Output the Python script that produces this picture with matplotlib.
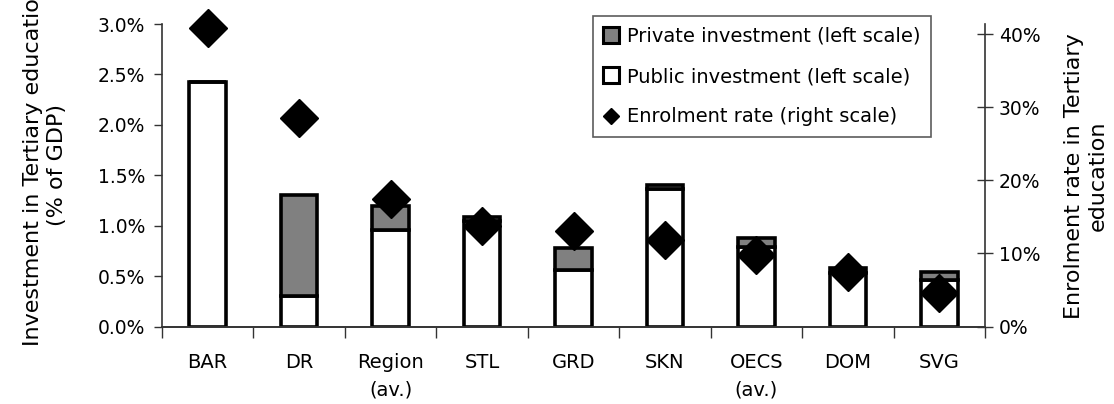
import matplotlib
matplotlib.use("Agg")
import matplotlib.pyplot as plt
from matplotlib.lines import Line2D
from matplotlib.ticker import FuncFormatter, FixedLocator
import numpy as np

categories = ["BAR", "DR", "Region\n(av.)", "STL", "GRD", "SKN", "OECS\n(av.)", "DOM", "SVG"]
public_inv = [2.42, 0.30, 0.96, 1.05, 0.56, 1.36, 0.79, 0.53, 0.46]      # % of GDP
private_inv = [0.00, 1.00, 0.24, 0.04, 0.22, 0.04, 0.09, 0.05, 0.08]     # % of GDP
enrolment = [40.8, 28.6, 17.4, 13.8, 13.1, 11.9, 9.8, 7.5, 4.6]          # %

plt.rcParams['font.family'] = ['DejaVu Sans']
fig = plt.figure(figsize=(11.14, 4.04), dpi=100)
ax = fig.add_axes([162/1114, 1-326.5/404, (985-162)/1114, (326.5-24)/404])
ax2 = ax.twinx()

x = np.arange(len(categories))
w = 0.40
lw = 2.6
ax.bar(x, public_inv, width=w, color="white", edgecolor="black", linewidth=lw, zorder=2)
ax.bar(x, private_inv, bottom=public_inv, width=w, color="#808080", edgecolor="black", linewidth=lw, zorder=2)

ax2.plot(x, enrolment, linestyle="none", marker="D", markersize=19.5, color="black",
         zorder=3, clip_on=False)

ax.set_xlim(-0.5, len(categories) - 0.5)
ax.set_ylim(0, 3.0)
ax2.set_ylim(0, 41.4)

ax.set_yticks(np.arange(0, 3.01, 0.5))
ax.yaxis.set_major_formatter(FuncFormatter(lambda v, p: f"{v:.1f}%"))
ax2.set_yticks(np.arange(0, 41, 10))
ax2.yaxis.set_major_formatter(FuncFormatter(lambda v, p: f"{v:.0f}%"))

ax.set_xticks(x)
ax.set_xticklabels(categories, fontsize=14, linespacing=1.55, va="top")
ax.tick_params(axis="x", length=0, pad=19)
ax.xaxis.set_minor_locator(FixedLocator(np.arange(-0.5, len(categories), 1.0)))
ax.tick_params(axis="x", which="minor", length=8, width=1, direction="out", color="#333333")

ax.tick_params(axis="y", labelsize=13.5, length=6, width=1, direction="out", color="#333333", pad=6)
ax2.tick_params(axis="y", labelsize=13.5, length=12, width=1, direction="inout", color="#333333", pad=4)

for a in (ax, ax2):
    a.spines["top"].set_visible(False)
    for s in ("left", "right", "bottom"):
        a.spines[s].set_linewidth(1.2)
        a.spines[s].set_color("#333333")
ax2.spines["left"].set_visible(False)
ax.spines["right"].set_visible(False)

fig.text(45/1114, 1-165/404, "Investment in Tertiary education\n(% of GDP)", rotation=90,
         ha="center", va="center", multialignment="center", fontsize=16, linespacing=1.25)
fig.text(1086/1114, 1-176/404, "Enrolment rate in Tertiary\neducation", rotation=90,
         ha="center", va="center", multialignment="center", fontsize=16, linespacing=1.25)

handles = [
    Line2D([], [], linestyle="none", marker="s", markersize=11, markerfacecolor="#808080",
           markeredgecolor="black", markeredgewidth=2.2),
    Line2D([], [], linestyle="none", marker="s", markersize=11, markerfacecolor="white",
           markeredgecolor="black", markeredgewidth=2.2),
    Line2D([], [], linestyle="none", marker="D", markersize=8, color="black"),
]
labels = ["Private investment (left scale)", "Public investment (left scale)", "Enrolment rate (right scale)"]
leg = fig.legend(handles, labels, loc="upper left", bbox_to_anchor=(593/1114, 1-16/404),
                 fontsize=14, frameon=True, fancybox=False, edgecolor="#333333",
                 handlelength=0.8, handletextpad=0.4, labelspacing=1.1, borderpad=0.55,
                 borderaxespad=0)
leg.get_frame().set_linewidth(1.2)

fig.savefig("out.png", dpi=100)
